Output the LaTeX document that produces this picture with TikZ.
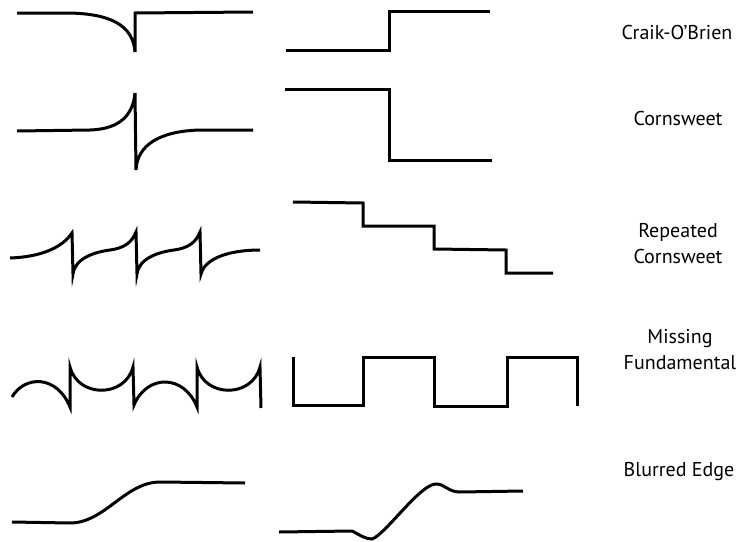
\documentclass[tikz,border=0pt]{standalone}
\usepackage{fontspec}
\setmainfont{PT Sans}
\begin{document}
\begin{tikzpicture}[x=1pt,y=-1pt,
  stroke/.style={line width=3pt,line join=miter,line cap=butt},
  lbl/.style={font=\fontsize{20}{26}\selectfont,align=center,text=black,inner sep=0pt}]
\useasboundingbox (0,0) rectangle (739,541);
% Row 1: Craik-O'Brien
\draw[stroke] (17,13) -- (65,13) .. controls (110,13) and (133,25) .. (135,52) -- (135,13) -- (253,12);
\draw[stroke] (286,50) -- (389,50) -- (389,11) -- (490,11);
\node[lbl] (l1) at (677,32) {Craik-O’Brien};
% Row 2: Cornsweet
\draw[stroke] (17,131) -- (90,130) .. controls (120,129) and (133,115) .. (135,93) -- (136,170) .. controls (137,145) and (160,131) .. (200,130) -- (253,130);
\draw[stroke] (285,89) -- (389,89) -- (389,160) -- (492,160);
\node[lbl] (l2) at (678,118) {Cornsweet};
% Row 3: Repeated Cornsweet
\draw[stroke] (10,258) .. controls (40,257) and (62,248) .. (72,233) -- (73,274)
  .. controls (75,258) and (95,252) .. (110,250) .. controls (125,248) and (132,242) .. (136,232) -- (137,274)
  .. controls (139,258) and (159,252) .. (174,250) .. controls (189,248) and (196,242) .. (200,232) -- (201,274)
  .. controls (205,258) and (230,250) .. (260,250);
\draw[stroke] (293,202) -- (363,203) -- (363,226) -- (434,226) -- (434,249) -- (506,250) -- (506,273) -- (553,273);
\node[lbl] (l3) at (678,244) {Repeated\\Cornsweet};
% Row 4: Missing Fundamental
\draw[stroke] (12,397) .. controls (25,375) and (57,375) .. (70,407) -- (70,367)
  .. controls (78,398) and (125,398) .. (133,367) -- (134,405)
  .. controls (147,374) and (184,374) .. (197,407) -- (197,367)
  .. controls (205,398) and (252,398) .. (260,367) -- (261,408);
\draw[stroke] (293,357) -- (293,405) -- (363,405) -- (363,357) -- (434,357) -- (434,406) -- (507,406) -- (507,357) -- (577,357) -- (577,406);
\node[lbl] (l4) at (680,350) {Missing\\Fundamental};
% Row 5: Blurred Edge
\draw[stroke] (12,522) -- (70,523) .. controls (105,523) and (125,482) .. (160,482) -- (245,483);
\draw[stroke] (279,532) -- (352,531) .. controls (360,535) and (365,539) .. (372,539)
  .. controls (385,535) and (420,484) .. (436,484) .. controls (445,484) and (448,492) .. (460,492) -- (523,491);
\node[lbl] (l5) at (679,472) {Blurred Edge};
\end{tikzpicture}
\end{document}
